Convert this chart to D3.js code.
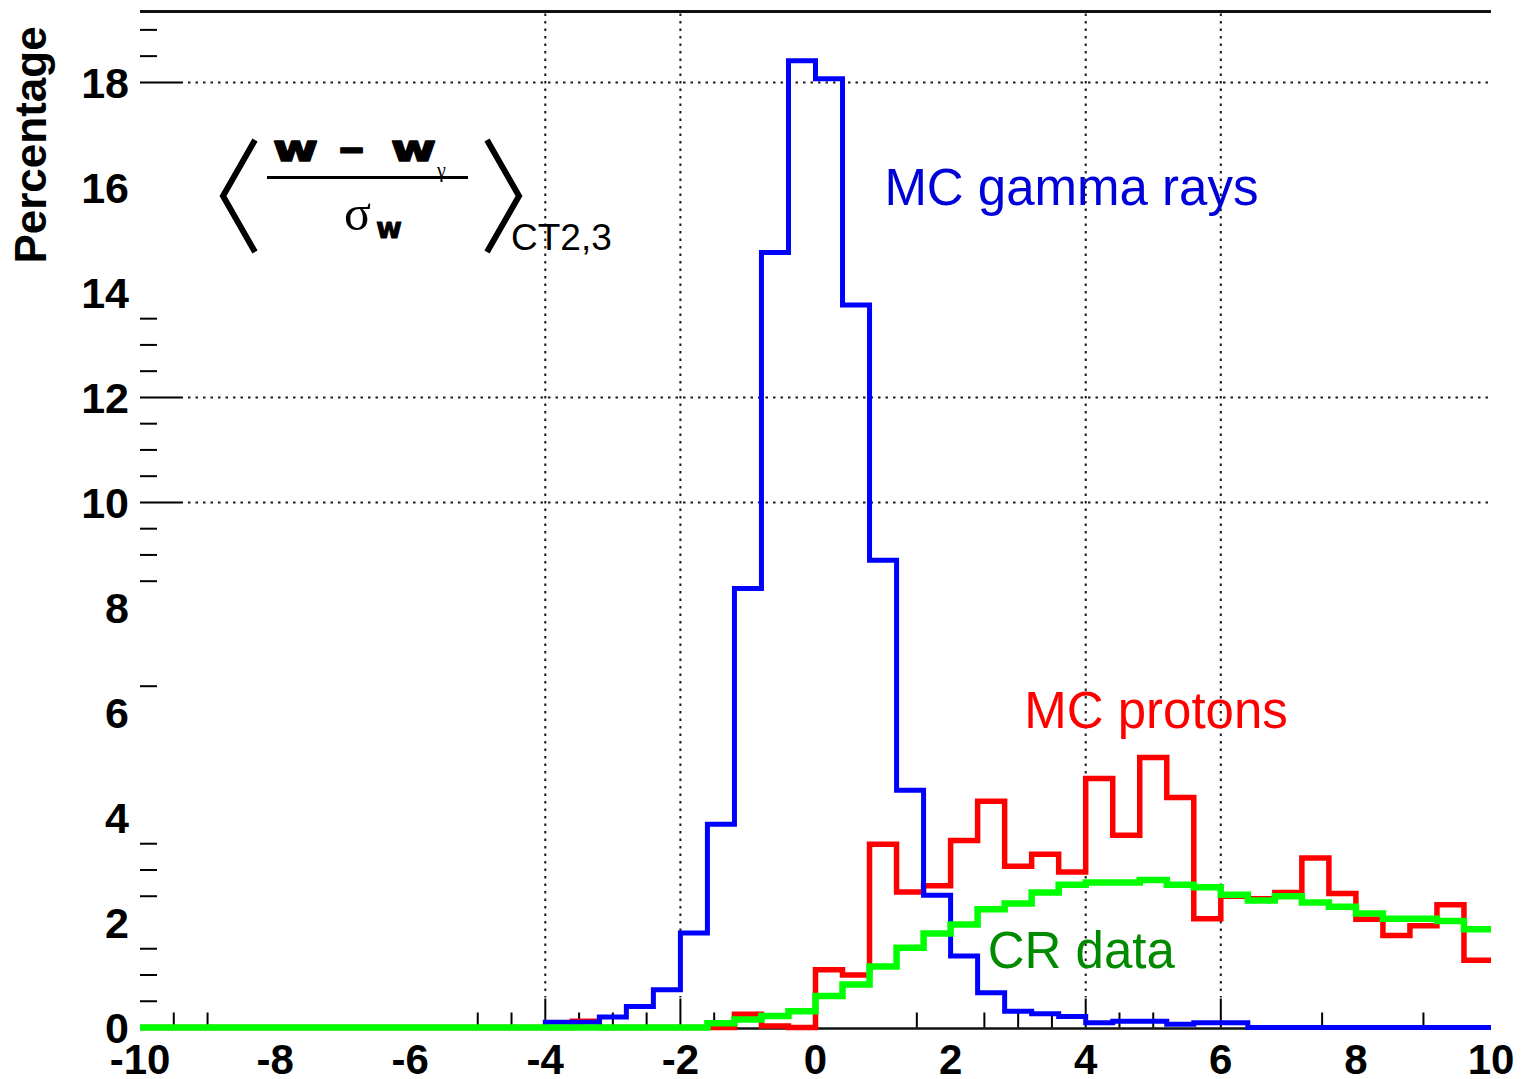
<!DOCTYPE html>
<html>
<head>
<meta charset="utf-8">
<script src="https://cdn.jsdelivr.net/npm/d3@7"></script>
<style>
  html, body { margin: 0; padding: 0; background: #ffffff; }
  svg { display: block; }
</style>
</head>
<body>
<svg id="chart" width="1522" height="1079"></svg>
<script>
// Histogram of <(w - w_gamma)/sigma_w> for CT2,3: 50 bins of width 0.4 between -10 and 10
const binLow = -10;
const binHigh = 10;
const binCount = 50;

// Percentage of events per bin
const mcGammaRays = [
  0, 0, 0, 0, 0, 0, 0, 0, 0, 0,
  0, 0, 0, 0, 0, 0.1, 0.1, 0.2, 0.4, 0.72,
  1.8, 3.87, 8.36, 14.76, 18.41, 18.07, 13.76, 8.9, 4.52, 2.52,
  1.36, 0.66, 0.31, 0.26, 0.21, 0.09, 0.12, 0.12, 0.06, 0.09,
  0.09, 0, 0, 0, 0, 0, 0, 0, 0, 0
];
const mcProtons = [
  0, 0, 0, 0, 0, 0, 0, 0, 0, 0,
  0, 0, 0, 0, 0, 0, 0.12, 0, 0, 0,
  0, 0, 0.25, 0.03, 0, 1.1, 1.0, 3.49, 2.58, 2.70,
  3.56, 4.31, 3.07, 3.30, 2.96, 4.74, 3.66, 5.14, 4.38, 2.07,
  2.5, 2.45, 2.57, 3.23, 2.55, 2.06, 1.75, 1.94, 2.34, 1.28
];
const crData = [
  0, 0, 0, 0, 0, 0, 0, 0, 0, 0,
  0, 0, 0, 0, 0, 0, 0, 0, 0, 0,
  0, 0.08, 0.15, 0.22, 0.31, 0.6, 0.82, 1.16, 1.52, 1.79,
  1.96, 2.25, 2.36, 2.57, 2.72, 2.76, 2.76, 2.81, 2.72, 2.67,
  2.53, 2.42, 2.50, 2.38, 2.30, 2.17, 2.07, 2.07, 2.03, 1.87
];

// Axis ticks
const xTickLabels = [-10, -8, -6, -4, -2, 0, 2, 4, 6, 8, 10];
const xMajorTicks = [-4, -2, 4, 6];
const xMinorTicks = [-9.5, -9, -5, -4.5, -3.5, -3, -2.5, -1.5, 1.5, 2.5, 3, 3.5, 4.5, 5, 7.5, 9];
const yTickLabels = [0, 2, 4, 6, 8, 10, 12, 14, 16, 18];
const yMajorTicks = [10, 12, 18];
const yMinorTicks = [0.5, 1, 1.5, 2.5, 3, 3.5, 6.5, 8.5, 9, 9.5, 10.5, 11, 11.5, 12.5, 13, 13.5, 18.5, 19];
const yTop = 19.35;

const svg = d3.select("#chart");
const plotL = 140, plotR = 1491, plotT = 11.5, plotB = 1027.5;

const x = d3.scaleLinear().domain([binLow, binHigh]).range([plotL, plotR]);
const y = d3.scaleLinear().domain([0, yTop]).range([plotB, plotT]);

const binWidth = (binHigh - binLow) / binCount;
const edges = d3.range(binCount).map(i => binLow + i * binWidth);

// ---- grid ----
const grid = svg.append("g").attr("stroke", "#1a1a1a").attr("stroke-width", 2)
  .attr("stroke-dasharray", "2.5,5").attr("fill", "none");
grid.selectAll("line.gx").data(xMajorTicks).join("line")
  .attr("x1", d => x(d)).attr("x2", d => x(d))
  .attr("y1", plotT + 2).attr("y2", plotB - 30);
grid.selectAll("line.gy").data(yMajorTicks).join("line")
  .attr("x1", plotL + 48).attr("x2", plotR)
  .attr("y1", d => y(d)).attr("y2", d => y(d));

// ---- frame / axis lines ----
svg.append("line").attr("x1", plotL).attr("x2", plotR).attr("y1", plotT).attr("y2", plotT)
  .attr("stroke", "#111").attr("stroke-width", 3);
svg.append("line").attr("x1", plotL).attr("x2", plotR).attr("y1", plotB + 1).attr("y2", plotB + 1)
  .attr("stroke", "#111").attr("stroke-width", 2.5);

// ---- ticks ----
const ticks = svg.append("g").attr("stroke", "#000").attr("stroke-width", 2);
ticks.selectAll("line.yM").data(yMajorTicks).join("line")
  .attr("x1", plotL).attr("x2", plotL + 43).attr("y1", d => y(d)).attr("y2", d => y(d));
ticks.selectAll("line.ym").data(yMinorTicks).join("line")
  .attr("x1", plotL).attr("x2", plotL + 17).attr("y1", d => y(d)).attr("y2", d => y(d));
ticks.selectAll("line.xM").data(xMajorTicks).join("line")
  .attr("x1", d => x(d)).attr("x2", d => x(d)).attr("y1", plotB).attr("y2", plotB - 29);
ticks.selectAll("line.xm").data(xMinorTicks).join("line")
  .attr("x1", d => x(d)).attr("x2", d => x(d)).attr("y1", plotB).attr("y2", plotB - 15);

// ---- tick labels ----
const tickFont = "'Liberation Sans', Arial, sans-serif";
svg.append("g").selectAll("text").data(yTickLabels).join("text")
  .attr("x", 129).attr("y", d => y(d) + 15.5)
  .attr("text-anchor", "end")
  .attr("font-family", tickFont).attr("font-weight", "bold").attr("font-size", 43)
  .text(d => d);
svg.append("g").selectAll("text").data(xTickLabels).join("text")
  .attr("x", d => x(d)).attr("y", 1074)
  .attr("text-anchor", "middle")
  .attr("font-family", tickFont).attr("font-weight", "bold").attr("font-size", 42)
  .text(d => d);

// y axis title
svg.append("text")
  .attr("transform", "translate(46,145) rotate(-90)")
  .attr("text-anchor", "middle")
  .attr("font-family", tickFont).attr("font-weight", "bold").attr("font-size", 44)
  .text("Percentage");

// ---- histograms ----
const step = d3.line().x(d => x(d[0])).y(d => y(d[1])).curve(d3.curveStepAfter);
function outline(values) {
  const pts = edges.map((e, i) => [e, values[i]]);
  pts.push([binHigh, values[binCount - 1]]);
  return pts;
}
const series = [
  { values: mcProtons, color: "#ff0000", width: 5.5 },
  { values: mcGammaRays, color: "#0000ff", width: 5 },
  { values: crData, color: "#00ff00", width: 6.5 }
];
svg.append("g").selectAll("path").data(series).join("path")
  .attr("d", s => step(outline(s.values)))
  .attr("fill", "none")
  .attr("stroke", s => s.color)
  .attr("stroke-width", s => s.width)
  .attr("stroke-linejoin", "miter")
  .attr("stroke-linecap", "butt");

// ---- series labels ----
const labelFont = "'Liberation Sans', Arial, sans-serif";
const labels = [
  { text: "MC gamma rays", xv: 1.02, yv: 15.67, color: "#0000d8" },
  { text: "MC protons", xv: 3.09, yv: 5.7, color: "#ff0000" },
  { text: "CR data", xv: 2.55, yv: 1.13, color: "#008a00" }
];
svg.append("g").selectAll("text").data(labels).join("text")
  .attr("x", d => x(d.xv)).attr("y", d => y(d.yv))
  .attr("font-family", labelFont).attr("font-size", 51)
  .attr("fill", d => d.color)
  .text(d => d.text);

// ---- formula: < (w - w_gamma) / sigma_w >_CT2,3 ----
const f = svg.append("g");
f.append("path").attr("d", "M255,140 L223,196 L255,252")
  .attr("fill", "none").attr("stroke", "#000").attr("stroke-width", 6).attr("stroke-linejoin", "miter");
f.append("path").attr("d", "M487,140 L519,196 L487,252")
  .attr("fill", "none").attr("stroke", "#000").attr("stroke-width", 6).attr("stroke-linejoin", "miter");
f.append("line").attr("x1", 267).attr("x2", 468).attr("y1", 177.5).attr("y2", 177.5)
  .attr("stroke", "#000").attr("stroke-width", 3);
const heavyFont = "'DejaVu Sans', sans-serif";
function heavyText(g, str, xx, yy, size, len, sw) {
  const t = g.append("text").attr("x", xx).attr("y", yy)
    .attr("font-family", heavyFont).attr("font-weight", "bold")
    .attr("font-size", size)
    .attr("stroke", "#000").attr("stroke-width", sw).attr("stroke-linejoin", "round")
    .text(str);
  if (len) t.attr("textLength", len).attr("lengthAdjust", "spacingAndGlyphs");
  return t;
}
heavyText(f, "w", 273, 161, 36, 45, 1.6);
heavyText(f, "\u2013", 338, 162, 40, 27, 1.2);
heavyText(f, "w", 391, 161, 36, 45, 1.6);
f.append("text").attr("x", 437).attr("y", 177).attr("font-family", "'Liberation Serif', serif")
  .attr("font-size", 20).text("\u03b3");
f.append("text").attr("x", 344).attr("y", 230).attr("font-family", "'Liberation Serif', serif")
  .attr("font-size", 50).text("\u03c3");
heavyText(f, "w", 376, 238, 28, 26, 1.0);
f.append("text").attr("x", 511).attr("y", 250).attr("font-family", labelFont)
  .attr("font-size", 37).text("CT2,3");
</script>
</body>
</html>
